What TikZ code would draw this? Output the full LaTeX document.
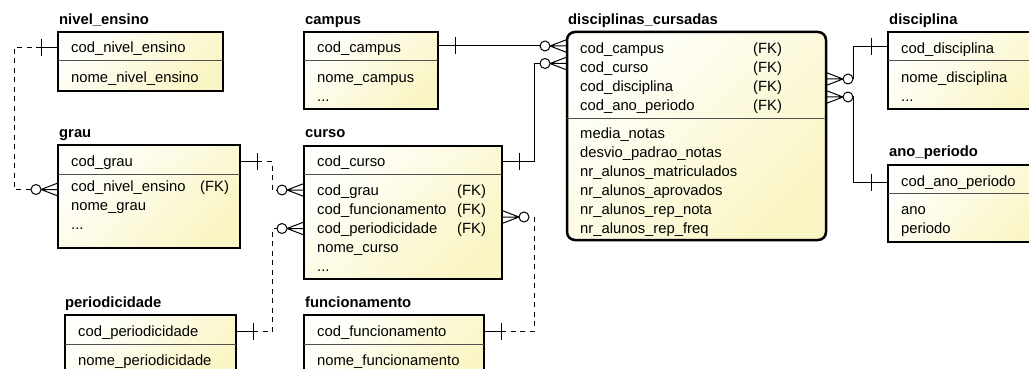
\documentclass[tikz,border=0pt]{standalone}
\usepackage{fontspec}
\setmainfont{Liberation Sans}
\usetikzlibrary{calc}
\definecolor{boxhi}{RGB}{255,255,252}
\definecolor{boxlo}{RGB}{250,245,196}
\definecolor{rulegray}{RGB}{80,80,80}

% one-bar mark across a connector at the given point
\newcommand\onebar[1]{\draw[rel] ($(#1)+(0,-8.5)$) -- ($(#1)+(0,8.5)$);}
% zero-or-many end: #1 point on the box edge, #2 = 1 (line from the left) or -1 (from the right)
\newcommand\zeromany[2]{%
  \begin{scope}[shift={(#1)}, xscale=#2]
    \draw[rel] (-17,0) -- (0,-6.5) (-17,0) -- (0,0) (-17,0) -- (0,6.5);
    \draw[rel, fill=white] (-22,0) circle[radius=5];
  \end{scope}}

\tikzset{
  ent/.style={draw=black, line width=2.5pt, top color=boxhi, bottom color=boxlo,
    shading angle=45, inner sep=0pt, outer sep=0pt, anchor=north west},
  rowrule/.style={draw=rulegray, line width=1pt},
  ttl/.style={anchor=base west, inner sep=0pt, font=\fontsize{14.8pt}{18pt}\selectfont\bfseries},
  fld/.style={anchor=base west, inner sep=0pt, font=\fontsize{14.8pt}{18pt}\selectfont},
  rel/.style={draw=black, line width=1pt},
  opt/.style={dash pattern=on 5pt off 4.5pt},
}

\begin{document}
\begin{tikzpicture}[x=1pt, y=-1pt]
\clip (0,0) rectangle (1029,369);
\fill[white] (0,0) rectangle (1029,369);

% ---------- entity boxes ----------
\node[ent, minimum width=165pt, minimum height=59pt] (nivel) at (58,32) {};
\draw[rowrule] ($(nivel.north west)+(0,29)$) -- ($(nivel.north east)+(0,29)$);

\node[ent, minimum width=134pt, minimum height=77pt] (campus) at (304,32) {};
\draw[rowrule] ($(campus.north west)+(0,29)$) -- ($(campus.north east)+(0,29)$);

\node[ent, rounded corners=8pt, minimum width=259pt, minimum height=208pt] (disc) at (567,32) {};
\draw[rowrule] ($(disc.north west)+(0,86)$) -- ($(disc.north east)+(0,86)$);

\node[ent, minimum width=160pt, minimum height=77pt] (disciplina) at (888,32) {};
\draw[rowrule] ($(disciplina.north west)+(0,29)$) -- ($(disciplina.north east)+(0,29)$);

\node[ent, minimum width=160pt, minimum height=77pt] (anoper) at (888,165) {};
\draw[rowrule] ($(anoper.north west)+(0,28)$) -- ($(anoper.north east)+(0,28)$);

\node[ent, minimum width=182pt, minimum height=103pt] (grau) at (58,145) {};
\draw[rowrule] ($(grau.north west)+(0,29)$) -- ($(grau.north east)+(0,29)$);

\node[ent, minimum width=198pt, minimum height=133pt] (curso) at (304,146) {};
\draw[rowrule] ($(curso.north west)+(0,28)$) -- ($(curso.north east)+(0,28)$);

\node[ent, minimum width=171pt, minimum height=70pt] (period) at (65,315) {};
\draw[rowrule] ($(period.north west)+(0,29)$) -- ($(period.north east)+(0,29)$);

\node[ent, minimum width=180pt, minimum height=70pt] (func) at (304,315) {};
\draw[rowrule] ($(func.north west)+(0,29)$) -- ($(func.north east)+(0,29)$);

% ---------- titles and fields ----------
\node[ttl] (t-nivel) at (59,25) {nivel\_ensino};
\node[fld] (nivel-1) at (71,53) {cod\_nivel\_ensino};
\node[fld] (nivel-2) at (71,82.5) {nome\_nivel\_ensino};

\node[ttl] (t-campus) at (305,25) {campus};
\node[fld] (campus-1) at (317,53) {cod\_campus};
\node[fld] (campus-2) at (317,82.5) {nome\_campus};
\node[fld] (campus-3) at (317,101.5) {...};

\node[ttl] (t-disc) at (568,25) {disciplinas\_cursadas};
\node[fld] (disc-1) at (580,53.5) {cod\_campus};
\node[fld] (disc-2) at (580,72.5) {cod\_curso};
\node[fld] (disc-3) at (580,91.5) {cod\_disciplina};
\node[fld] (disc-4) at (580,110.5) {cod\_ano\_periodo};
\node[fld] (disc-1k) at (753,53.5) {(FK)};
\node[fld] (disc-2k) at (753,72.5) {(FK)};
\node[fld] (disc-3k) at (753,91.5) {(FK)};
\node[fld] (disc-4k) at (753,110.5) {(FK)};
\node[fld] (disc-5) at (580,138.5) {media\_notas};
\node[fld] (disc-6) at (580,157.5) {desvio\_padrao\_notas};
\node[fld] (disc-7) at (580,176.5) {nr\_alunos\_matriculados};
\node[fld] (disc-8) at (580,195.5) {nr\_alunos\_aprovados};
\node[fld] (disc-9) at (580,214.5) {nr\_alunos\_rep\_nota};
\node[fld] (disc-10) at (580,233) {nr\_alunos\_rep\_freq};

\node[ttl] (t-disciplina) at (889,25) {disciplina};
\node[fld] (disciplina-1) at (901,53.5) {cod\_disciplina};
\node[fld] (disciplina-2) at (901,83) {nome\_disciplina};
\node[fld] (disciplina-3) at (901,101.5) {...};

\node[ttl] (t-anoper) at (889,157) {ano\_periodo};
\node[fld] (anoper-1) at (901,186.5) {cod\_ano\_periodo};
\node[fld] (anoper-2) at (901,214.5) {ano};
\node[fld] (anoper-3) at (901,233) {periodo};

\node[ttl] (t-grau) at (59,138) {grau};
\node[fld] (grau-1) at (71,166.5) {cod\_grau};
\node[fld] (grau-2) at (71,191) {cod\_nivel\_ensino};
\node[fld] (grau-2k) at (200,191) {(FK)};
\node[fld] (grau-3) at (71,210) {nome\_grau};
\node[fld] (grau-4) at (71,229) {...};

\node[ttl] (t-curso) at (305,137.5) {curso};
\node[fld] (curso-1) at (317,166.5) {cod\_curso};
\node[fld] (curso-2) at (317,195.5) {cod\_grau};
\node[fld] (curso-3) at (317,214.5) {cod\_funcionamento};
\node[fld] (curso-4) at (317,233) {cod\_periodicidade};
\node[fld] (curso-2k) at (457,195.5) {(FK)};
\node[fld] (curso-3k) at (457,214.5) {(FK)};
\node[fld] (curso-4k) at (457,233) {(FK)};
\node[fld] (curso-5) at (317,252) {nome\_curso};
\node[fld] (curso-6) at (317,271) {...};

\node[ttl] (t-period) at (65,307.5) {periodicidade};
\node[fld] (period-1) at (78,336.5) {cod\_periodicidade};
\node[fld] (period-2) at (78,365) {nome\_periodicidade};

\node[ttl] (t-func) at (305,307.5) {funcionamento};
\node[fld] (func-1) at (317,336.5) {cod\_funcionamento};
\node[fld] (func-2) at (317,365) {nome\_funcionamento};

% ---------- relationships ----------
% nivel_ensino -> grau
\coordinate (c1a) at ($(nivel.north west)+(0,15.5)$);
\coordinate (c1b) at ($(grau.north west)+(0,44.5)$);
\draw[rel] (c1a) -- ++(-17,0) coordinate (c1bar);
\draw[rel, opt] (c1bar) -- ++(-27,0) |- ($(c1b)+(-22,0)$);
\onebar{c1bar}
\zeromany{c1b}{1}

% grau -> curso
\coordinate (c2a) at ($(grau.north east)+(0,16.5)$);
\coordinate (c2b) at ($(curso.north west)+(0,44)$);
\draw[rel] (c2a) -- ++(17,0) coordinate (c2bar);
\draw[rel, opt] (c2bar) -- ++(15,0) |- ($(c2b)+(-22,0)$);
\onebar{c2bar}
\zeromany{c2b}{1}

% periodicidade -> curso
\coordinate (c3a) at ($(period.north east)+(0,16.5)$);
\coordinate (c3b) at ($(curso.north west)+(0,82.5)$);
\draw[rel] (c3a) -- ++(17,0) coordinate (c3bar);
\draw[rel, opt] (c3bar) -- ++(19,0) |- ($(c3b)+(-22,0)$);
\onebar{c3bar}
\zeromany{c3b}{1}

% funcionamento -> curso
\coordinate (c4a) at ($(func.north east)+(0,16)$);
\coordinate (c4b) at ($(curso.north east)+(0,71)$);
\draw[rel] (c4a) -- ++(17,0) coordinate (c4bar);
\draw[rel, opt] (c4bar) -- ++(33,0) |- ($(c4b)+(22,0)$);
\onebar{c4bar}
\zeromany{c4b}{-1}

% curso -> disciplinas_cursadas
\coordinate (c5a) at ($(curso.north east)+(0,15)$);
\coordinate (c5b) at ($(disc.north west)+(0,31.5)$);
\draw[rel] (c5a) -- ++(32,0) |- ($(c5b)+(-22,0)$);
\onebar{$(c5a)+(17,0)$}
\zeromany{c5b}{1}

% campus -> disciplinas_cursadas
\coordinate (c6a) at ($(campus.north east)+(0,14)$);
\coordinate (c6b) at ($(disc.north west)+(0,14)$);
\draw[rel] (c6a) -- ($(c6b)+(-22,0)$);
\onebar{$(c6a)+(17,0)$}
\zeromany{c6b}{1}

% disciplina -> disciplinas_cursadas
\coordinate (c7a) at ($(disciplina.north west)+(0,14.5)$);
\coordinate (c7b) at ($(disc.north east)+(0,47)$);
\draw[rel] (c7a) -- ++(-35,0) |- ($(c7b)+(22,0)$);
\onebar{$(c7a)+(-17,0)$}
\zeromany{c7b}{-1}

% ano_periodo -> disciplinas_cursadas
\coordinate (c8a) at ($(anoper.north west)+(0,17)$);
\coordinate (c8b) at ($(disc.north east)+(0,65)$);
\draw[rel] (c8a) -- ++(-35,0) |- ($(c8b)+(22,0)$);
\onebar{$(c8a)+(-17,0)$}
\zeromany{c8b}{-1}
\end{tikzpicture}
\end{document}
